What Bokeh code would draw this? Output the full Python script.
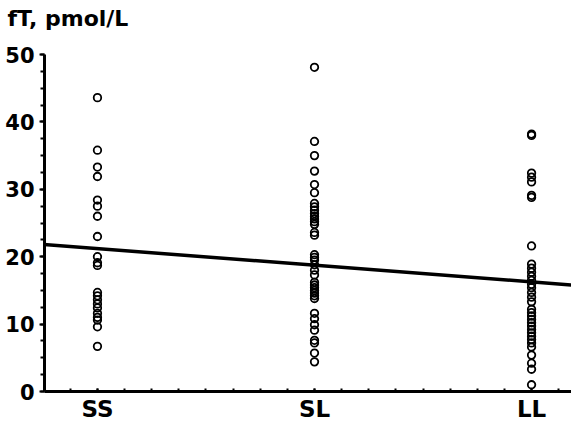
from bokeh.plotting import figure
from bokeh.models import FixedTicker, Range1d, ColumnDataSource, Title
from bokeh.embed import file_html
from bokeh.resources import INLINE

categories = ["SS", "SL", "LL"]
ss_values = [43.6, 35.8, 33.3, 31.9, 28.4, 27.5, 26.0, 23.0, 20.0, 19.1, 18.7,
             14.7, 14.2, 13.6, 13.0, 12.4, 11.6, 11.0, 10.6, 9.6, 6.7]
sl_values = [48.1, 37.1, 35.0, 32.7, 30.7, 29.5, 27.9, 27.4, 26.9, 26.4, 26.0,
             25.6, 25.2, 24.8, 23.6, 23.2, 20.3, 19.9, 19.5, 18.8, 18.0, 17.3,
             16.2, 15.8, 15.4, 15.0, 14.6, 14.2, 13.8, 11.6, 10.8, 9.9, 9.1,
             7.6, 7.2, 5.7, 4.4]
ll_values = [38.2, 38.0, 32.4, 31.8, 31.1, 29.1, 28.8, 21.6, 18.9, 18.3, 17.7,
             17.1, 16.5, 15.9, 15.4, 14.7, 14.0, 13.3, 12.2, 11.7, 11.2, 10.7,
             10.2, 9.7, 9.2, 8.7, 8.2, 7.7, 7.2, 6.6, 5.4, 4.2, 3.3, 1.0]
y_ticks = [0, 10, 20, 30, 40, 50]
title_text = "fT, pmol/L"
# regression line endpoints (x in category index units, 1=SS)
reg_x = [0.75, 3.25]
reg_y = [21.82, 15.64]

FONT = "DejaVu Sans"

xs, ys = [], []
for i, vals in enumerate([ss_values, sl_values, ll_values]):
    for v in vals:
        xs.append(i + 1)
        ys.append(v)
src = ColumnDataSource(dict(x=xs, y=ys))

p = figure(width=571, height=424, output_backend="svg", toolbar_location=None,
           x_range=Range1d(0.756, 3.184), y_range=Range1d(0, 50),
           min_border_left=44, min_border_right=0, min_border_top=54,
           min_border_bottom=30)
p.outline_line_color = None
p.grid.visible = False
p.background_fill_color = "white"

p.title.text = title_text
p.title.text_font = FONT
p.title.text_font_size = "22px"
p.title.text_font_style = "bold"
p.title.text_color = "black"
p.title.align = "left"
p.title.offset = -37
p.title.standoff = 0

# empty spacer between title and frame
p.add_layout(Title(text=" ", text_font_size="10px", standoff=11), "above")

p.line(reg_x, reg_y, line_color="black", line_width=3.5)
p.scatter("x", "y", source=src, size=7.5, fill_color=None, line_color="black",
          line_width=1.8)

minor_x = [0.875 + 0.125 * k for k in range(19)]
p.xaxis.ticker = FixedTicker(ticks=[1, 2, 3], minor_ticks=minor_x)
p.xaxis.major_label_overrides = {i + 1: c for i, c in enumerate(categories)}
p.yaxis.ticker = FixedTicker(ticks=y_ticks,
                             minor_ticks=[2.5 * k for k in range(21)])

for ax in (p.xaxis[0], p.yaxis[0]):
    ax.axis_line_width = 3
    ax.axis_line_color = "black"
    ax.major_tick_line_width = 2
    ax.minor_tick_line_width = 2
    ax.major_tick_line_color = "black"
    ax.minor_tick_line_color = "black"
    ax.major_label_text_font = FONT
    ax.major_label_text_font_style = "bold"
    ax.major_label_text_color = "black"

p.xaxis.major_label_text_font_size = "23px"
p.xaxis.major_tick_in = 3
p.xaxis.major_tick_out = 0
p.xaxis.minor_tick_in = 3
p.xaxis.minor_tick_out = 0
p.xaxis.major_label_standoff = 4

p.yaxis.major_label_text_font_size = "21px"
p.yaxis.major_tick_in = 0
p.yaxis.major_tick_out = 5
p.yaxis.minor_tick_in = 0
p.yaxis.minor_tick_out = 4
p.yaxis.major_label_standoff = 5

open("out.html", "w").write(file_html(p, INLINE))
